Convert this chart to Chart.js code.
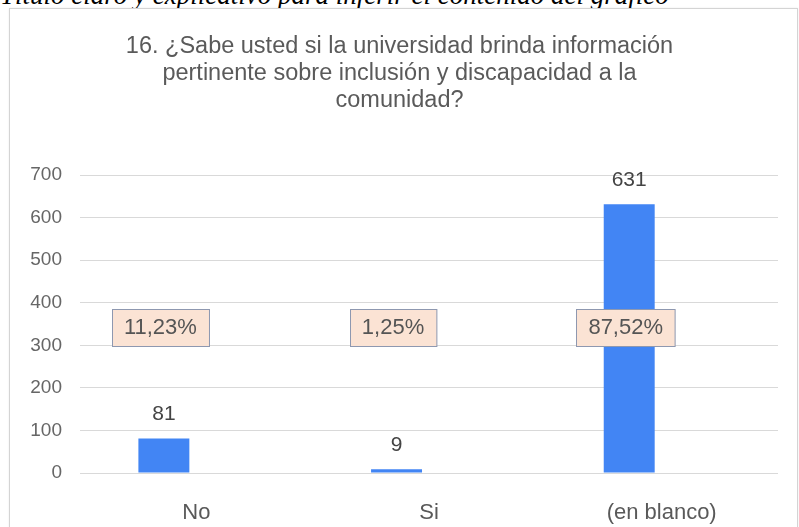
<!DOCTYPE html>
<html>
<head>
<meta charset="utf-8">
<script src="https://cdn.jsdelivr.net/npm/chart.js@4"></script>
<style>
  html, body { margin: 0; padding: 0; background: #fff; overflow: hidden; }
  body { width: 799px; height: 527px; position: relative; }
  #caption { position: absolute; left: 0; top: -18.5px; font-family: "Liberation Serif", serif; font-style: italic; font-size: 27px; line-height: 27px; color: #000; white-space: nowrap; }
  #frame { position: absolute; left: 9px; top: 8px; width: 787px; height: 540px; border: 1px solid #d4d4d4; box-shadow: 0 0 2px rgba(0,0,0,0.08); background: #fff; }
  #wrap { position: absolute; left: 0; top: 0; width: 799px; height: 527px; }
</style>
</head>
<body>
<div id="caption">Título claro y explicativo para inferir el contenido del gráfico</div>
<div id="frame"></div>
<div id="wrap"><canvas id="c" width="799" height="527"></canvas></div>
<script>
const titleLines = ["16. ¿Sabe usted si la universidad brinda información", "pertinente sobre inclusión y discapacidad a la", "comunidad?"];
const categories = ["No", "Si", "(en blanco)"];
const counts = [81, 9, 631];
const percentLabels = ["11,23%", "1,25%", "87,52%"];
const yTicks = [0, 100, 200, 300, 400, 500, 600, 700];

const FONT = "'Liberation Sans', Arial, sans-serif";

const labelPlugin = {
  id: 'labelPlugin',
  afterDatasetsDraw(chart) {
    const ctx = chart.ctx;
    const meta = chart.getDatasetMeta(0);
    const area = chart.chartArea;
    const midY = (area.top + area.bottom) / 2 + 3;
    ctx.save();
    meta.data.forEach((bar, i) => {
      // value label
      ctx.font = "21px " + FONT;
      ctx.fillStyle = "#444444";
      ctx.textAlign = "center";
      ctx.textBaseline = "middle";
      ctx.fillText(String(counts[i]), bar.x, bar.y - 24);
      // percent box
      const cx = bar.x - 3.5;
      ctx.font = "22px " + FONT;
      const w = ctx.measureText(percentLabels[i]).width + 24;
      const h = 37;
      const x0 = Math.round(cx - w / 2) + 0.5;
      const y0 = Math.round(midY - h / 2) + 0.5;
      ctx.fillStyle = "#fbe3d4";
      ctx.fillRect(x0, y0, w, h);
      ctx.strokeStyle = "#8e98b0";
      ctx.lineWidth = 1;
      ctx.strokeRect(x0, y0, w, h);
      ctx.fillStyle = "#555555";
      ctx.fillText(percentLabels[i], cx, midY + 1);
    });
    ctx.restore();
  }
};

new Chart(document.getElementById('c'), {
  type: 'bar',
  data: {
    labels: categories,
    datasets: [
      { data: counts, backgroundColor: '#4285f4', borderWidth: 0 },
      { data: categories.map(() => null), backgroundColor: 'rgba(0,0,0,0)' }
    ]
  },
  options: {
    responsive: false,
    animation: false,
    devicePixelRatio: 1,
    categoryPercentage: 0.558,
    barPercentage: 0.785,
    layout: { padding: { left: 21, right: 21, top: 0, bottom: 0 } },
    plugins: {
      legend: { display: false },
      tooltip: { enabled: false },
      title: {
        display: true,
        text: titleLines,
        color: '#5a5a5a',
        font: { family: FONT, size: 23.5, weight: 'normal', lineHeight: 27 / 23.5 },
        padding: { top: 33.5, bottom: 60.5 }
      }
    },
    scales: {
      x: {
        grid: { display: false },
        border: { display: false },
        ticks: { color: '#595959', font: { family: FONT, size: 22 }, padding: 19, maxRotation: 0 },
        afterFit(scale) { scale.height = 54; }
      },
      y: {
        min: 0,
        max: 700,
        afterBuildTicks(scale) { scale.ticks = yTicks.map(v => ({ value: v })); },
        grid: { color: '#d9d9d9', drawTicks: false },
        border: { display: false },
        ticks: { color: '#666666', font: { family: FONT, size: 19 }, padding: 18 },
        afterFit(scale) { scale.width = 59; }
      }
    }
  },
  plugins: [labelPlugin]
});
</script>
</body>
</html>
